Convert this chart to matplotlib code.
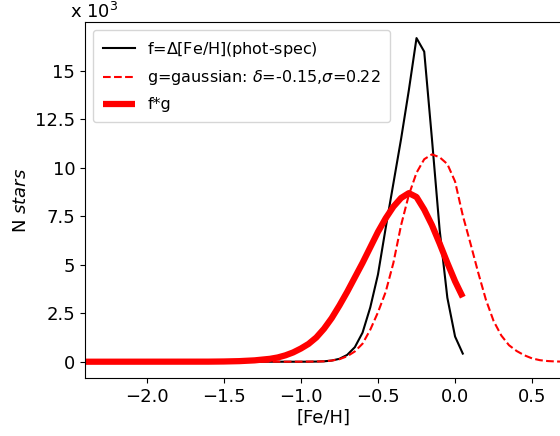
import matplotlib
matplotlib.use("Agg")
import matplotlib.pyplot as plt
from matplotlib.ticker import FixedLocator

# f = Delta[Fe/H](phot-spec) histogram (black)
f_x = [-2.4, -1.5, -1.0, -0.95, -0.9, -0.85, -0.8, -0.75, -0.7, -0.65, -0.6, -0.55, -0.5,
       -0.45, -0.4, -0.35, -0.3, -0.25, -0.2, -0.15, -0.1, -0.05, 0.0, 0.05]
f_y = [0, 0, 0, 3, 8, 20, 60, 150, 350, 750, 1500, 2800, 4500,
       6900, 9200, 11500, 14000, 16700, 16000, 11500, 6800, 3300, 1300, 420]

# g = gaussian (red dashed)
g_x = [-2.4, -1.0, -0.95, -0.9, -0.85, -0.8, -0.75, -0.7, -0.65, -0.6, -0.55, -0.5,
       -0.45, -0.4, -0.35, -0.3, -0.25, -0.2, -0.15, -0.1, -0.05, 0.0, 0.05,
       0.1, 0.15, 0.2, 0.25, 0.3, 0.35, 0.4, 0.45, 0.5, 0.55, 0.6, 0.65, 0.7]
g_y = [0, 2, 5, 10, 20, 60, 130, 280, 530, 930, 1650, 2550,
       3600, 5100, 7050, 8600, 9750, 10450, 10700, 10550, 10200, 9300, 7550,
       6100, 4600, 3200, 2100, 1350, 850, 550, 330, 170, 80, 35, 14, 5]

# f*g (thick red)
fg_x = [-2.4, -1.6, -1.5, -1.4, -1.3, -1.2, -1.15, -1.1, -1.05, -1.0, -0.95, -0.9, -0.85,
        -0.8, -0.75, -0.7, -0.65, -0.6, -0.55, -0.5, -0.45, -0.4, -0.35, -0.3, -0.25,
        -0.2, -0.15, -0.1, -0.05, 0.0, 0.05]
fg_y = [0, 4, 12, 30, 70, 150, 220, 330, 480, 680, 920, 1250, 1700,
        2250, 2900, 3600, 4350, 5100, 5900, 6700, 7400, 8000, 8450, 8700, 8500,
        7850, 7050, 6100, 5100, 4150, 3330]

labels = [r'f=$\Delta$[Fe/H](phot-spec)',
          r'g=gaussian: $\delta$=-0.15,$\sigma$=0.22',
          'f*g']

y_ticks = [0, 2500, 5000, 7500, 10000, 12500, 15000]
y_ticklabels = ['0', '2.5', '5', '7.5', '10', '12.5', '15']
x_ticks = [-2.0, -1.5, -1.0, -0.5, 0.0, 0.5]

fig = plt.figure(figsize=(5.6, 4.36), dpi=100)
ax = fig.add_axes([85/560, 1 - 378/436, (563 - 85)/560, (378 - 22)/436])

ax.plot(f_x, f_y, color='black', lw=1.5, label=labels[0])
ax.plot(g_x, g_y, color='red', lw=1.5, ls='--', label=labels[1])
ax.plot(fg_x, fg_y, color='red', lw=4.5, label=labels[2], solid_capstyle='butt')

ax.set_xlim(-2.4, 0.7)
ax.set_ylim(-840, 17530)
ax.xaxis.set_major_locator(FixedLocator(x_ticks))
ax.yaxis.set_major_locator(FixedLocator(y_ticks))
ax.set_yticklabels(y_ticklabels)
ax.tick_params(labelsize=13)

ax.set_xlabel('[Fe/H]', fontsize=13, labelpad=2)
ax.set_ylabel(r'N $stars$', fontsize=13)
fig.text(70/560, 1 - 12/436, r'x $10^3$', fontsize=13, va='center', ha='left')

ax.legend(loc='upper left', fontsize=11.5, handlelength=2.0,
          labelspacing=0.62, borderpad=0.6)

fig.savefig('out.png', dpi=100)
